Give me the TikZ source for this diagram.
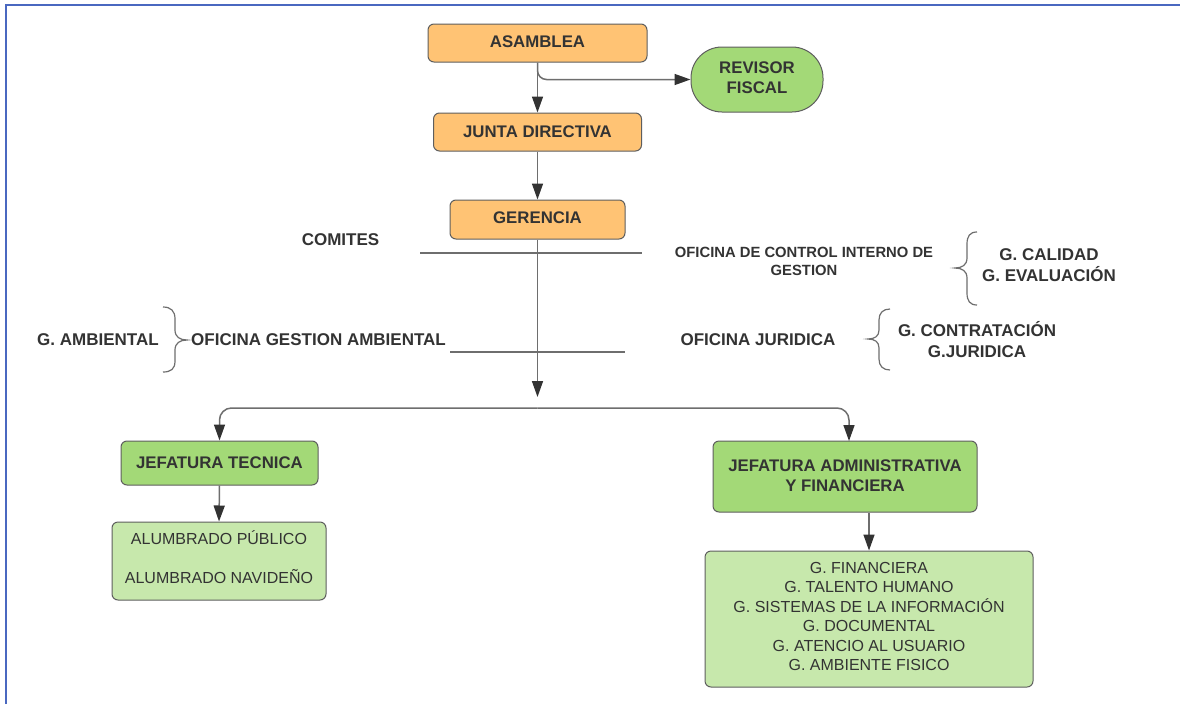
\documentclass[tikz,border=0pt]{standalone}
\usepackage{fontspec}
\setmainfont{Liberation Sans}
\usetikzlibrary{arrows.meta}
\definecolor{txt}{HTML}{333333}
\definecolor{bord}{HTML}{5E5E5E}
\definecolor{orangefill}{HTML}{FFC374}
\definecolor{greenfill}{HTML}{A3D977}
\definecolor{lightgreen}{HTML}{C7E8AC}
\definecolor{linecol}{HTML}{6E6E6E}
\definecolor{tipcol}{HTML}{333333}
\definecolor{framecol}{HTML}{4A68C0}
\tikzset{
  box/.style={draw=bord, line width=1pt, rounded corners=6pt, text=txt, align=center, inner sep=0pt},
  orangebox/.style={box, fill=orangefill},
  greenbox/.style={box, fill=greenfill},
  lightbox/.style={box, fill=lightgreen},
  boldtext/.style={text=txt, align=center, inner sep=0pt, font=\fontsize{16.8}{20}\selectfont\bfseries},
  regtext/.style={text=txt, align=center, inner sep=0pt, font=\fontsize{16}{19.5}\selectfont},
  freetext/.style={text=txt, align=center, inner sep=0pt, font=\fontsize{17}{20.5}\selectfont\bfseries},
  conn/.style={draw=linecol, line width=1.5pt},
  arr/.style={conn, -{Triangle[length=16pt,width=11pt,color=tipcol]}},
  bracecurve/.style={draw=linecol, line width=1.2pt},
}
\begin{document}
\begin{tikzpicture}[x=1pt,y=-1pt]
\useasboundingbox (0,0) rectangle (1180,704);
\fill[white] (0,0) rectangle (1180,704);
\draw[framecol, line width=2pt] (6,704) -- (6,5) -- (1180,5);

% boxes
\node[orangebox, minimum width=219pt, minimum height=38pt,
  label={[boldtext, yshift=1pt]center:ASAMBLEA}] (asam) at (537.5,43) {};
\node[greenbox, minimum width=132pt, minimum height=65pt, rounded corners=31pt,
  label={[boldtext, yshift=2pt]center:REVISOR\\FISCAL}] (rev) at (757,79.5) {};
\node[orangebox, minimum width=208pt, minimum height=38pt,
  label={[boldtext]center:JUNTA DIRECTIVA}] (junta) at (537.5,132) {};
\node[orangebox, minimum width=175pt, minimum height=39pt,
  label={[boldtext, yshift=1.5pt]center:GERENCIA}] (ger) at (537.5,219.5) {};
\node[greenbox, minimum width=197pt, minimum height=44pt,
  label={[boldtext]center:JEFATURA TECNICA}] (jt) at (219.5,463) {};
\node[lightbox, minimum width=214pt, minimum height=78pt,
  label={[regtext, font=\fontsize{16}{39}\selectfont, yshift=4pt]center:ALUMBRADO PÚBLICO\\ALUMBRADO NAVIDEÑO}] (alum) at (219,561) {};
\node[greenbox, minimum width=264pt, minimum height=71pt,
  label={[boldtext, yshift=1pt]center:JEFATURA ADMINISTRATIVA\\Y FINANCIERA}] (ja) at (845,476.5) {};
\node[lightbox, minimum width=328pt, minimum height=136pt,
  label={[regtext, yshift=2.5pt]center:G. FINANCIERA\\G. TALENTO HUMANO\\G. SISTEMAS DE LA INFORMACIÓN\\G. DOCUMENTAL\\G. ATENCIO AL USUARIO\\G. AMBIENTE FISICO}] (big) at (869,619) {};

% free labels
\node[freetext] (comites) at (340.5,240) {COMITES};
\node[freetext, font=\fontsize{14.8}{17.5}\selectfont\bfseries] (oci) at (804,261.5) {OFICINA DE CONTROL INTERNO DE\\GESTION};
\node[freetext] (gcal) at (1049,265) {G. CALIDAD\\G. EVALUACIÓN};
\node[freetext] (ojur) at (758,340) {OFICINA JURIDICA};
\node[freetext] (gcon) at (977,339.5) {G. CONTRATACIÓN\\G.JURIDICA};
\node[freetext] (gamb) at (98,340) {G. AMBIENTAL};
\node[freetext] (ogamb) at (318.5,340) {OFICINA GESTION AMBIENTAL};

% coordinates
\coordinate (tip) at (537.5,397);
\coordinate (hl) at (537.5,408);
\coordinate (jaIn) at (849,441);

% connectors
\draw[arr] (asam.south) -- (junta.north);
\draw[arr, rounded corners=9pt] (asam.south) |- (rev.west);
\draw[arr] (junta.south) -- (ger.north);
\draw[arr] (ger.south) -- (tip);
\draw[arr, rounded corners=12pt] (hl) -| (jt.north);
\draw[arr, rounded corners=12pt] (hl) -| (jaIn);
\draw[arr] (jt.south) -- (alum.north);
\draw[arr] (ja.south -| big.north) -- (big.north);

% horizontal level lines
\draw[conn] (420,253) -- (642,253);
\draw[conn] (450,352) -- (625,352);

% braces
\draw[bracecurve] (163,307) .. controls (171,307) and (175,311) .. (175,319) -- (175,330)
  .. controls (175,337) and (180,340) .. (187,340)
  .. controls (180,340) and (175,343) .. (175,350) -- (175,361)
  .. controls (175,369) and (171,372) .. (163,372);
\draw[bracecurve] (977,232) .. controls (970,232) and (967,236) .. (967,244) -- (967,258)
  .. controls (967,265) and (962,268) .. (955,268)
  .. controls (962,268) and (967,271) .. (967,278) -- (967,293)
  .. controls (967,301) and (970,305) .. (977,305);
\draw[bracecurve] (890,309) .. controls (883,309) and (879,313) .. (879,320) -- (879,330)
  .. controls (879,336) and (875,339) .. (868,339)
  .. controls (875,339) and (879,342) .. (879,348) -- (879,359)
  .. controls (879,366) and (883,370) .. (890,370);
\end{tikzpicture}
\end{document}
